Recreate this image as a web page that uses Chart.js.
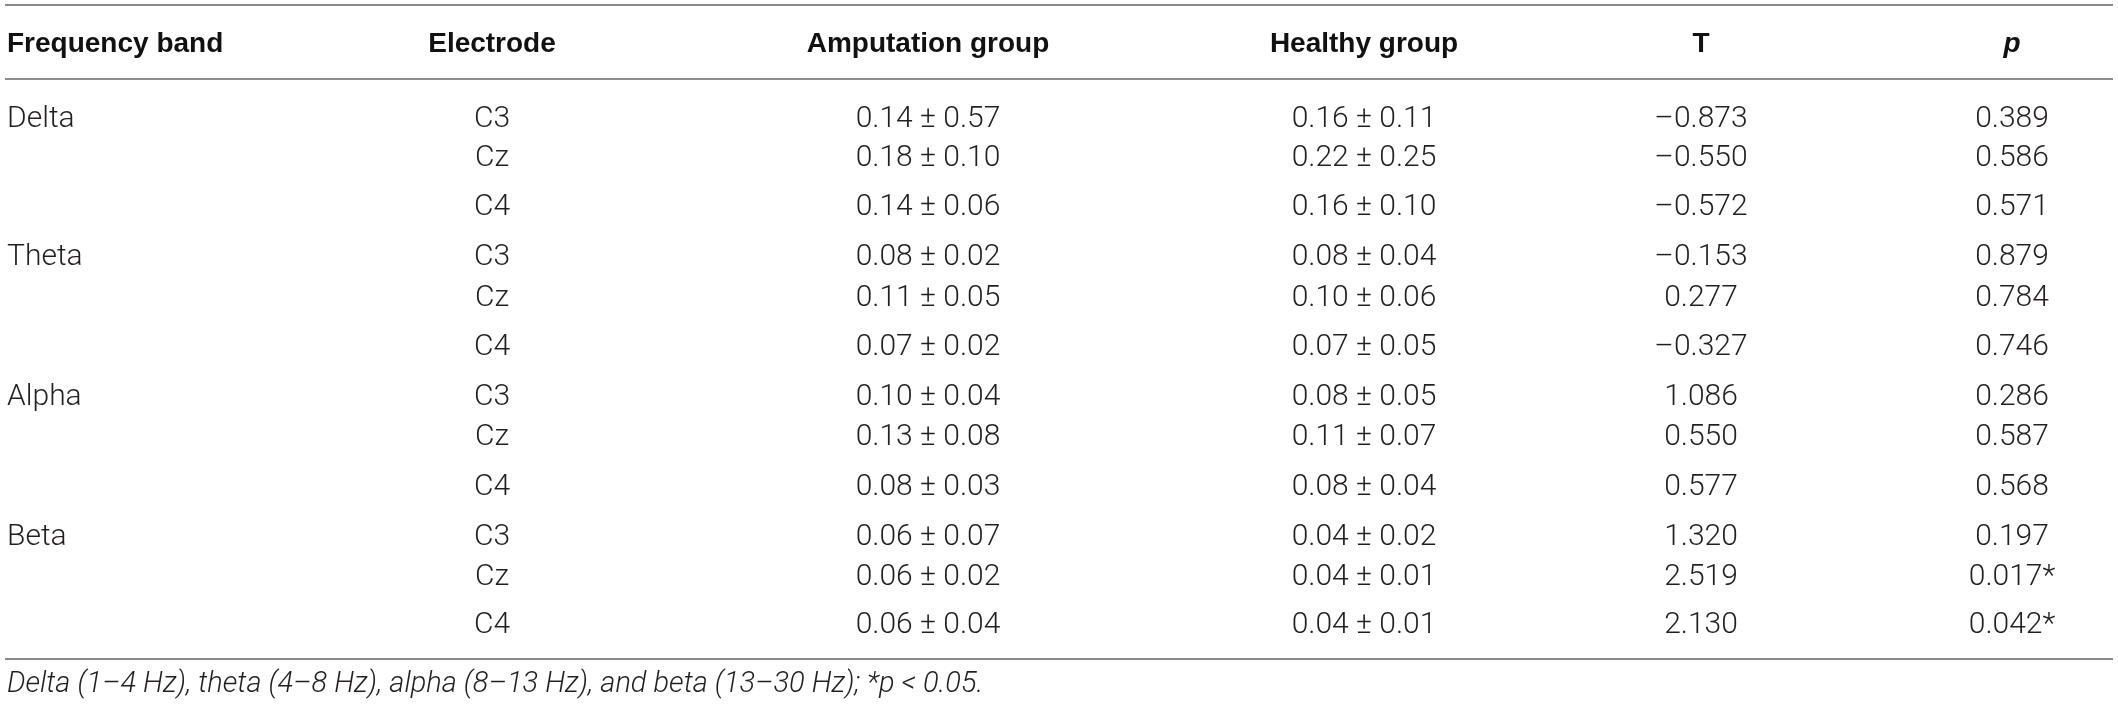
<!DOCTYPE html>
<html>
<head>
<meta charset="utf-8">
<title>EEG power by frequency band</title>
<script src="https://cdn.jsdelivr.net/npm/chart.js@4/dist/chart.umd.min.js"></script>
<style>
  html, body { margin: 0; padding: 0; background: #fff; }
  #wrap { width: 2118px; height: 708px; }
</style>
</head>
<body>
<div id="wrap"><canvas id="tableChart" width="2118" height="708"></canvas></div>
<script>
// table content
const headers = ["Frequency band", "Electrode", "Amputation group", "Healthy group", "T", "p"];
const bands = ["Delta", "Theta", "Alpha", "Beta"];
const electrodes = ["C3", "Cz", "C4"];
const ampMean = [0.14, 0.18, 0.14, 0.08, 0.11, 0.07, 0.10, 0.13, 0.08, 0.06, 0.06, 0.06];
const ampSD = [0.57, 0.10, 0.06, 0.02, 0.05, 0.02, 0.04, 0.08, 0.03, 0.07, 0.02, 0.04];
const healthyMean = [0.16, 0.22, 0.16, 0.08, 0.10, 0.07, 0.08, 0.11, 0.08, 0.04, 0.04, 0.04];
const healthySD = [0.11, 0.25, 0.10, 0.04, 0.06, 0.05, 0.05, 0.07, 0.04, 0.02, 0.01, 0.01];
const tValues = [-0.873, -0.550, -0.572, -0.153, 0.277, -0.327, 1.086, 0.550, 0.577, 1.320, 2.519, 2.130];
const pValues = [0.389, 0.586, 0.571, 0.879, 0.784, 0.746, 0.286, 0.587, 0.568, 0.197, 0.017, 0.042];
const alpha = 0.05;
const footnote = "Delta (1\u20134 Hz), theta (4\u20138 Hz), alpha (8\u201313 Hz), and beta (13\u201330 Hz); *p < 0.05.";

// layout (scale units = page pixels)
const colX = [7, 492, 928, 1364, 1701, 2012];
const colAlign = ["left", "center", "center", "center", "center", "center"];
const headerY = 42;
const rowY = [116, 155, 204, 254, 295, 344, 394, 434, 484, 534, 574, 622];
const ruleY = [5, 79, 659];
const ruleX = [5, 2113];
const footY = 681;

const bodyFont = "300 30px Roboto";
const headFont = "bold 28px 'Liberation Sans'";
const headItalicFont = "italic bold 28px 'Liberation Sans'";
const footFont = "italic 300 29px Roboto";

const fmt = (v, d) => (v < 0 ? "\u2013" : "") + Math.abs(v).toFixed(d);

const cells = [];
headers.forEach((h, c) => {
  cells.push({ x: colX[c], y: headerY, text: h, font: c === 5 ? headItalicFont : headFont, color: "#111", align: colAlign[c] });
});
rowY.forEach((y, r) => {
  const row = [
    r % 3 === 0 ? bands[r / 3] : "",
    electrodes[r % 3],
    ampMean[r].toFixed(2) + " \u00b1 " + ampSD[r].toFixed(2),
    healthyMean[r].toFixed(2) + " \u00b1 " + healthySD[r].toFixed(2),
    fmt(tValues[r], 3),
    pValues[r].toFixed(3) + (pValues[r] < alpha ? "*" : "")
  ];
  row.forEach((text, c) => {
    if (text) cells.push({ x: colX[c], y: y, text: text, font: bodyFont, color: "#231f20", align: colAlign[c] });
  });
});
cells.push({ x: colX[0], y: footY, text: footnote, font: footFont, color: "#231f20", align: "left" });

const ruleSets = ruleY.map((y) => ({
  type: "line",
  data: ruleX.map((x) => ({ x: x, y: y })),
  borderColor: "#8c8c8c",
  borderWidth: 2,
  pointRadius: 0,
  fill: false,
  clip: false
}));

const whiteBg = {
  id: "whiteBg",
  beforeDraw: (chart) => {
    const ctx = chart.ctx;
    ctx.save();
    ctx.fillStyle = "#fff";
    ctx.fillRect(0, 0, chart.width, chart.height);
    ctx.restore();
  }
};

// draws each cell's text centred on the cap height at the point the scales give
const cellText = {
  id: "cellText",
  afterDatasetsDraw: (chart) => {
    const ctx = chart.ctx;
    const idx = chart.data.datasets.length - 1;
    const meta = chart.getDatasetMeta(idx);
    const data = chart.data.datasets[idx].data;
    ctx.save();
    ctx.textBaseline = "alphabetic";
    meta.data.forEach((pt, i) => {
      const cell = data[i];
      ctx.font = cell.font;
      ctx.fillStyle = cell.color;
      ctx.textAlign = cell.align;
      const cap = ctx.measureText("H").actualBoundingBoxAscent;
      ctx.fillText(cell.text, pt.x, pt.y + cap / 2);
    });
    ctx.restore();
  }
};

new Chart(document.getElementById("tableChart"), {
  type: "scatter",
  data: {
    datasets: [
      ...ruleSets,
      { type: "scatter", data: cells, pointRadius: 0, pointHoverRadius: 0, clip: false }
    ]
  },
  options: {
    responsive: false,
    devicePixelRatio: 1,
    animation: false,
    events: [],
    layout: { padding: 0 },
    plugins: { legend: { display: false }, tooltip: { enabled: false } },
    scales: {
      x: { type: "linear", min: 0, max: 2118, display: false },
      y: { type: "linear", min: 0, max: 708, reverse: true, display: false }
    }
  },
  plugins: [whiteBg, cellText]
});
</script>
</body>
</html>
